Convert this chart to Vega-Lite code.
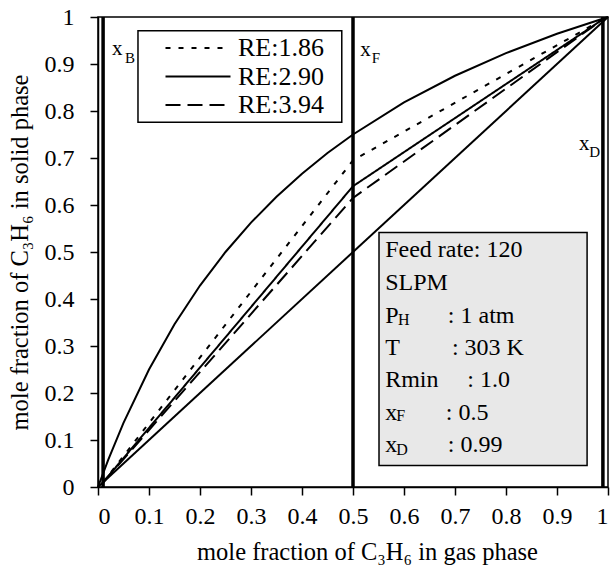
{
  "$schema": "https://vega.github.io/schema/vega-lite/v6.json",
  "width": 510,
  "height": 470,
  "autosize": {"type": "none"},
  "padding": {"left": 98, "top": 17, "right": 6, "bottom": 83},
  "background": "white",
  "config": {
    "view": {"stroke": "black", "strokeWidth": 1.5},
    "font": "Liberation Serif, serif",
    "axis": {
      "domainColor": "black", "domainWidth": 1.5,
      "tickColor": "black", "tickWidth": 1.5, "tickSize": 8,
      "grid": false,
      "labelFont": "Liberation Serif, serif", "labelFontSize": 24, "labelColor": "black",
      "titleFont": "Liberation Serif, serif", "titleFontSize": 24.5, "titleFontWeight": "normal", "titleColor": "black"
    }
  },
  "datasets": {
    "eq": [
      {"x": 0, "y": 0}, {"x": 0.02, "y": 0.0577}, {"x": 0.05, "y": 0.1364}, {"x": 0.1, "y": 0.25},
      {"x": 0.15, "y": 0.3462}, {"x": 0.2, "y": 0.4286}, {"x": 0.25, "y": 0.5}, {"x": 0.3, "y": 0.5625},
      {"x": 0.35, "y": 0.6176}, {"x": 0.4, "y": 0.6667}, {"x": 0.45, "y": 0.7105}, {"x": 0.5, "y": 0.75},
      {"x": 0.6, "y": 0.8182}, {"x": 0.7, "y": 0.875}, {"x": 0.8, "y": 0.9231}, {"x": 0.9, "y": 0.9643},
      {"x": 1, "y": 1}
    ],
    "diag": [{"x": 0, "y": 0}, {"x": 1, "y": 1}],
    "op": [
      {"s": "RE:1.86", "x": 0.01, "y": 0.01}, {"s": "RE:1.86", "x": 0.5, "y": 0.695}, {"s": "RE:1.86", "x": 0.99, "y": 0.995},
      {"s": "RE:2.90", "x": 0.01, "y": 0.01}, {"s": "RE:2.90", "x": 0.5, "y": 0.64}, {"s": "RE:2.90", "x": 0.99, "y": 0.995},
      {"s": "RE:3.94", "x": 0.01, "y": 0.01}, {"s": "RE:3.94", "x": 0.5, "y": 0.615}, {"s": "RE:3.94", "x": 0.99, "y": 0.995}
    ],
    "vlines": [{"x": 0.01}, {"x": 0.5}, {"x": 0.99}],
    "labels": [
      {"k": "lab", "t": "x", "x": 0.0275, "y": 0.92},
      {"k": "lab", "t": "x", "x": 0.514, "y": 0.916},
      {"k": "lab", "t": "x", "x": 0.943, "y": 0.718},
      {"k": "labsub", "t": "B", "x": 0.053, "y": 0.903},
      {"k": "labsub", "t": "F", "x": 0.537, "y": 0.903},
      {"k": "labsub", "t": "D", "x": 0.963, "y": 0.703},
      {"k": "box", "t": "Feed rate: 120", "x": 0.563, "y": 0.4883},
      {"k": "box", "t": "SLPM", "x": 0.563, "y": 0.4191},
      {"k": "box", "t": "P", "x": 0.563, "y": 0.35},
      {"k": "box", "t": ": 1 atm", "x": 0.686, "y": 0.35},
      {"k": "box", "t": "T", "x": 0.563, "y": 0.2819},
      {"k": "box", "t": ": 303 K", "x": 0.694, "y": 0.2819},
      {"k": "box", "t": "Rmin", "x": 0.563, "y": 0.2128},
      {"k": "box", "t": ": 1.0", "x": 0.724, "y": 0.2128},
      {"k": "box", "t": "x", "x": 0.563, "y": 0.1436},
      {"k": "box", "t": ": 0.5", "x": 0.682, "y": 0.1436},
      {"k": "box", "t": "x", "x": 0.563, "y": 0.0755},
      {"k": "box", "t": ": 0.99", "x": 0.686, "y": 0.0755},
      {"k": "boxsub", "t": "H", "x": 0.588, "y": 0.3457},
      {"k": "boxsub", "t": "F", "x": 0.585, "y": 0.1394},
      {"k": "boxsub", "t": "D", "x": 0.585, "y": 0.0691}
    ]
  },
  "resolve": {"scale": {"x": "shared", "y": "shared"}},
  "layer": [
    {
      "data": {"values": [{}]},
      "mark": {"type": "rect", "fill": "white", "stroke": "black", "strokeWidth": 1.5},
      "encoding": {
        "x": {"datum": 0.0784, "type": "quantitative", "scale": {"domain": [0, 1], "nice": false, "zero": false}},
        "x2": {"datum": 0.478},
        "y": {"datum": 0.971, "type": "quantitative", "scale": {"domain": [0, 1], "nice": false, "zero": false}},
        "y2": {"datum": 0.776}
      }
    },
    {
      "data": {"values": [{}]},
      "mark": {"type": "rect", "fill": "#e8e8e8", "stroke": "black", "strokeWidth": 1.5},
      "encoding": {
        "x": {"datum": 0.551, "type": "quantitative"},
        "x2": {"datum": 0.959},
        "y": {"datum": 0.5415, "type": "quantitative"},
        "y2": {"datum": 0.0457}
      }
    },
    {
      "data": {"name": "vlines"},
      "mark": {"type": "rule", "color": "black", "strokeWidth": 3.5},
      "encoding": {
        "x": {"field": "x", "type": "quantitative"}
      }
    },
    {
      "data": {"name": "eq"},
      "mark": {"type": "line", "color": "black", "strokeWidth": 2},
      "encoding": {
        "x": {
          "field": "x", "type": "quantitative",
          "scale": {"domain": [0, 1], "nice": false, "zero": false},
          "axis": {"values": [0, 0.1, 0.2, 0.3, 0.4, 0.5, 0.6, 0.7, 0.8, 0.9, 1], "format": "~g", "labelPadding": 9, "labelFontSize": 24, "titlePadding": 12, "titleX": 269},
          "title": "mole fraction of C₃H₆ in gas phase"
        },
        "y": {
          "field": "y", "type": "quantitative",
          "scale": {"domain": [0, 1], "nice": false, "zero": false},
          "axis": {"values": [0, 0.1, 0.2, 0.3, 0.4, 0.5, 0.6, 0.7, 0.8, 0.9, 1], "format": "~g", "labelPadding": 16, "labelFontSize": 24, "titlePadding": 12},
          "title": "mole fraction of C₃H₆ in solid phase"
        }
      }
    },
    {
      "data": {"name": "diag"},
      "mark": {"type": "line", "color": "black", "strokeWidth": 2},
      "encoding": {
        "x": {"field": "x", "type": "quantitative"},
        "y": {"field": "y", "type": "quantitative"}
      }
    },
    {
      "data": {"name": "op"},
      "mark": {"type": "line", "color": "black", "strokeWidth": 2},
      "encoding": {
        "x": {"field": "x", "type": "quantitative"},
        "y": {"field": "y", "type": "quantitative"},
        "strokeDash": {
          "field": "s", "type": "nominal",
          "scale": {"domain": ["RE:1.86", "RE:2.90", "RE:3.94"], "range": [[5, 8], [1, 0], [15, 7]]},
          "legend": {
            "orient": "none", "legendX": 87, "legendY": 18, "title": null,
            "padding": 0, "symbolOffset": 0,
            "labelFont": "Liberation Serif, serif", "labelFontSize": 26, "labelColor": "black",
            "symbolType": "M-6.5,0H6.5", "symbolSize": 100, "symbolStrokeWidth": 2,
            "symbolStrokeColor": "black", "labelOffset": 27, "rowPadding": 2.5
          }
        }
      }
    },
    {
      "data": {"name": "labels"},
      "transform": [{"filter": "datum.k == 'lab'"}],
      "mark": {"type": "text", "align": "left", "baseline": "alphabetic", "fontSize": 21, "font": "Liberation Serif, serif", "color": "black"},
      "encoding": {
        "x": {"field": "x", "type": "quantitative"},
        "y": {"field": "y", "type": "quantitative"},
        "text": {"field": "t"}
      }
    },
    {
      "data": {"name": "labels"},
      "transform": [{"filter": "datum.k == 'labsub'"}],
      "mark": {"type": "text", "align": "left", "baseline": "alphabetic", "fontSize": 15, "font": "Liberation Serif, serif", "color": "black"},
      "encoding": {
        "x": {"field": "x", "type": "quantitative"},
        "y": {"field": "y", "type": "quantitative"},
        "text": {"field": "t"}
      }
    },
    {
      "data": {"name": "labels"},
      "transform": [{"filter": "datum.k == 'box'"}],
      "mark": {"type": "text", "align": "left", "baseline": "alphabetic", "fontSize": 24, "font": "Liberation Serif, serif", "color": "black"},
      "encoding": {
        "x": {"field": "x", "type": "quantitative"},
        "y": {"field": "y", "type": "quantitative"},
        "text": {"field": "t"}
      }
    },
    {
      "data": {"name": "labels"},
      "transform": [{"filter": "datum.k == 'boxsub'"}],
      "mark": {"type": "text", "align": "left", "baseline": "alphabetic", "fontSize": 16, "font": "Liberation Serif, serif", "color": "black"},
      "encoding": {
        "x": {"field": "x", "type": "quantitative"},
        "y": {"field": "y", "type": "quantitative"},
        "text": {"field": "t"}
      }
    }
  ]
}
